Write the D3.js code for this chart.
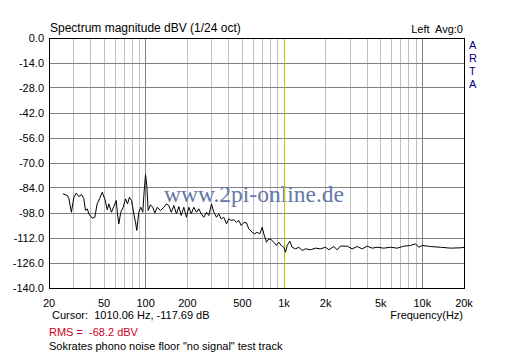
<!DOCTYPE html>
<html><head><meta charset="utf-8">
<script src="https://cdn.jsdelivr.net/npm/d3@7"></script>
<style>html,body{margin:0;padding:0;background:#fff;}svg{display:block;}</style>
</head><body>
<script>
const freqs = [25.0,26.9,27.6,28.8,30.0,31.2,32.6,34.1,35.4,36.4,37.5,38.5,40.7,42.5,44.2,46.0,48.1,50.2,52.3,53.7,56.1,58.3,60.7,62.0,63.4,65.5,68.2,70.9,73.3,75.7,78.3,81.4,83.7,85.5,88.4,91.4,94.5,96.8,98.9,101.0,103.4,107.4,111.6,115.4,120.1,126.9,134.1,140.3,145.7,151.7,158.4,165.6,172.1,179.1,187.0,195.6,203.2,211.7,221.0,231.1,240.1,250.0,261.0,272.9,283.6,296.6,308.2,322.4,335.0,348.6,364.0,380.6,395.6,411.7,430.0,449.6,467.3,486.3,507.7,531.0,551.6,583.8,606.6,634.6,662.7,689.8,708.4,741.0,769.8,801.3,836.7,875.0,909.3,946.4,988.3,1016,1046,1092,1136,1200,1268,1342,1418,1542,1675,1820,1978,2090,2272,2404,2540,2838,3086,3354,3645,3962,4306,4679,5222,5838,6527,7284,8144,8850,9350,9894,11360,13420,15850,18720,19840];
const dbs = [-87.0,-87.9,-89.6,-97.3,-88.9,-86.6,-88.5,-87.4,-89.6,-96.3,-95.4,-98.2,-100.6,-100.1,-92.6,-89.8,-86.1,-89.8,-95.9,-92.6,-97.3,-94.1,-90.7,-98.2,-103.8,-97.3,-94.5,-89.8,-92.6,-88.9,-90.7,-98.2,-102.9,-107.5,-97.3,-94.5,-97.3,-85.1,-76.2,-82.3,-96.3,-93.1,-94.5,-97.8,-94.5,-96.3,-94.5,-92.6,-93.5,-97.3,-93.5,-98.2,-94.1,-99.1,-94.5,-100.1,-94.5,-98.2,-94.5,-97.3,-95.4,-98.2,-100.1,-97.3,-99.1,-92.6,-97.3,-100.1,-98.2,-101.0,-100.1,-103.8,-101.0,-101.9,-101.5,-102.9,-101.9,-104.7,-103.0,-103.3,-106.6,-108.5,-109.4,-108.5,-109.4,-105.7,-109.4,-114.1,-112.2,-112.7,-114.1,-115.9,-114.1,-115.9,-116.9,-119.7,-115.9,-113.5,-116.9,-117.8,-116.9,-118.7,-117.8,-118.3,-117.4,-117.8,-116.9,-118.3,-116.5,-118.3,-116.2,-116.3,-117.8,-116.5,-117.8,-116.3,-117.4,-116.9,-117.4,-116.9,-117.4,-116.3,-115.9,-115.0,-116.9,-115.9,-116.5,-116.9,-117.4,-117.2,-116.9];
const yTicks = [0,-14,-28,-42,-56,-70,-84,-98,-112,-126,-140];
const xTickValues = [20,50,100,200,500,1000,2000,5000,10000,20000];
const xTickLabels = ["20","50","100","200","500","1k","2k","5k","10k","20k"];
const minorGrid = [30,40,50,60,70,80,90,200,300,400,500,600,700,800,900,2000,3000,4000,5000,6000,7000,8000,9000];
const majorGrid = [100,1000,10000];
const cursorFreq = 1010.06;

const W = 512, H = 358;
const svg = d3.select("body").append("svg").attr("width", W).attr("height", H);
const font = "'Liberation Sans', Arial, sans-serif";
const x = d3.scaleLog().domain([20, 20000]).range([49, 464]);
const y = d3.scaleLinear().domain([0, -140]).range([38, 288]);
const px = v => Math.floor(v) + 0.5;

const g = svg.append("g");
g.selectAll(".vmin").data(minorGrid).enter().append("line")
  .attr("x1", d => px(x(d))).attr("x2", d => px(x(d)))
  .attr("y1", px(y(0))).attr("y2", px(y(-140))).attr("stroke", "#c0c0c0").attr("stroke-width", 1);
g.selectAll(".hg").data(yTicks).enter().append("line")
  .attr("x1", px(x(20))).attr("x2", px(x(20000)))
  .attr("y1", d => px(y(d))).attr("y2", d => px(y(d)))
  .attr("stroke", "#808080").attr("stroke-width", 1);
g.selectAll(".vmaj").data(majorGrid).enter().append("line")
  .attr("x1", d => px(x(d))).attr("x2", d => px(x(d)))
  .attr("y1", px(y(0))).attr("y2", px(y(-140))).attr("stroke", "#808080").attr("stroke-width", 1);

svg.append("text").attr("x", 164).attr("y", 202)
  .attr("font-family", "'Liberation Serif', 'Times New Roman', serif").attr("font-size", 23)
  .attr("fill", "#6478a8").attr("textLength", 180).attr("lengthAdjust", "spacingAndGlyphs")
  .text("www.2pi-online.de");

svg.append("line").attr("x1", px(x(cursorFreq))).attr("x2", px(x(cursorFreq)))
  .attr("y1", px(y(0))).attr("y2", px(y(-140))).attr("stroke", "#c8c800").attr("stroke-width", 1);

const pts = freqs.map((f, i) => [f, dbs[i]]);
svg.append("path").datum(pts)
  .attr("d", d3.line().x(d => x(d[0]) + 0.5).y(d => y(d[1]) + 0.5))
  .attr("fill", "none").attr("stroke", "#000").attr("stroke-width", 1);

svg.append("rect").attr("x", px(x(20))).attr("y", px(y(0)))
  .attr("width", Math.floor(x(20000)) - Math.floor(x(20))).attr("height", Math.floor(y(-140)) - Math.floor(y(0)))
  .attr("fill", "none").attr("stroke", "#000").attr("stroke-width", 1);

svg.selectAll(".yl").data(yTicks).enter().append("text")
  .attr("x", 44).attr("y", d => y(d) + 4).attr("text-anchor", "end")
  .attr("font-family", font).attr("font-size", 11).attr("fill", "#000")
  .text(d => d.toFixed(1));
svg.selectAll(".xl").data(xTickValues).enter().append("text")
  .attr("x", d => x(d)).attr("y", 307).attr("text-anchor", "middle")
  .attr("font-family", font).attr("font-size", 11).attr("fill", "#000")
  .text((d, i) => xTickLabels[i]);

svg.append("text").attr("x", 50).attr("y", 32).attr("font-family", font).attr("font-size", 12).text("Spectrum magnitude dBV (1/24 oct)");
svg.append("text").attr("x", 463).attr("y", 33).attr("text-anchor", "end").attr("font-family", font).attr("font-size", 11).attr("xml:space", "preserve").text("Left  Avg:0");
["A","R","T","A"].forEach((c, i) => {
  svg.append("text").attr("x", 469).attr("y", 49 + i * 13).attr("font-family", font).attr("font-size", 11).attr("fill", "#000080").text(c);
});
svg.append("text").attr("x", 52).attr("y", 319).attr("font-family", font).attr("font-size", 11).attr("xml:space", "preserve").text("Cursor:  1010.06 Hz, -117.69 dB");
svg.append("text").attr("x", 463).attr("y", 319).attr("text-anchor", "end").attr("font-family", font).attr("font-size", 11).text("Frequency(Hz)");
svg.append("text").attr("x", 49).attr("y", 336).attr("font-family", font).attr("font-size", 11).attr("fill", "#cc0022").attr("xml:space", "preserve").text("RMS =  -68.2 dBV");
svg.append("text").attr("x", 49).attr("y", 350).attr("font-family", font).attr("font-size", 11).text("Sokrates phono noise floor \"no signal\" test track");
</script>
</body></html>
